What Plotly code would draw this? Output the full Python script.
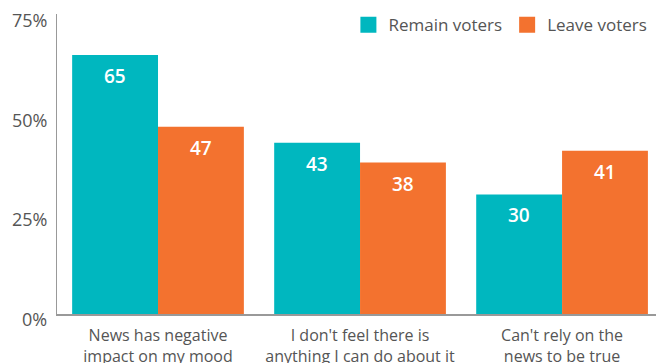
import plotly.graph_objects as go

# data
categories = ["News has negative<br>impact on my mood",
              "I don't feel there is<br>anything I can do about it",
              "Can't rely on the<br>news to be true"]
remain = [65, 43, 30]
leave = [47, 38, 41]
tick_vals = [0, 25, 50, 75]
tick_text = ["0%", "25%", "50%", "75%"]

teal = "#00B7BF"
orange = "#F3722F"
grey = "#555555"
font = "'Open Sans', sans-serif"

fig = go.Figure()
fig.add_trace(go.Bar(x=categories, y=remain, name="Remain voters",
                     marker=dict(color=teal, line=dict(width=0)),
                     showlegend=False))
fig.add_trace(go.Bar(x=categories, y=leave, name="Leave voters",
                     marker=dict(color=orange, line=dict(width=0)),
                     showlegend=False))

# legend entries with larger square swatches
for name, col in [("Remain voters", teal), ("Leave voters", orange)]:
    fig.add_trace(go.Scatter(x=[None], y=[None], mode="markers", name=name,
                             marker=dict(symbol="square", size=22, color=col)))

# value labels inside the bars, a little under the top
for vals, shift in [(remain, -43), (leave, 43)]:
    for c, v in zip(categories, vals):
        fig.add_annotation(x=c, y=v, text=str(v), showarrow=False,
                           xshift=shift, yshift=-21,
                           font=dict(family=font, size=19, color="white",
                                     weight=600))

# y tick labels sit slightly below their value in the original
for v, t in zip(tick_vals, tick_text):
    fig.add_annotation(x=0, xref="paper", y=v, yref="y", text=t,
                       showarrow=False, xanchor="right", xshift=-8, yshift=-5,
                       font=dict(family=font, size=18, color=grey))

fig.update_layout(
    width=656, height=363,
    margin=dict(l=57, r=0, t=14, b=49, autoexpand=False),
    paper_bgcolor="white", plot_bgcolor="white",
    barmode="group", bargap=0.15, bargroupgap=0,
    font=dict(family=font, size=15, color=grey),
    showlegend=True,
    legend=dict(orientation="h", x=0.994, xanchor="right", y=1.023,
                yanchor="top", font=dict(size=17, color=grey), itemwidth=30,
                bgcolor="rgba(0,0,0,0)"),
    xaxis=dict(range=[-0.5, 2.465], showline=True, linecolor="#999999",
               linewidth=2, ticks="", ticklabelstandoff=6,
               tickfont=dict(size=16, color=grey)),
    yaxis=dict(range=[0, 75.3], showticklabels=False,
               showgrid=False, zeroline=False, showline=True,
               linecolor="#999999", linewidth=1, ticks=""),
)

fig.write_html("out.html", config={"displayModeBar": False},
               post_script="document.body.style.margin='0';")
